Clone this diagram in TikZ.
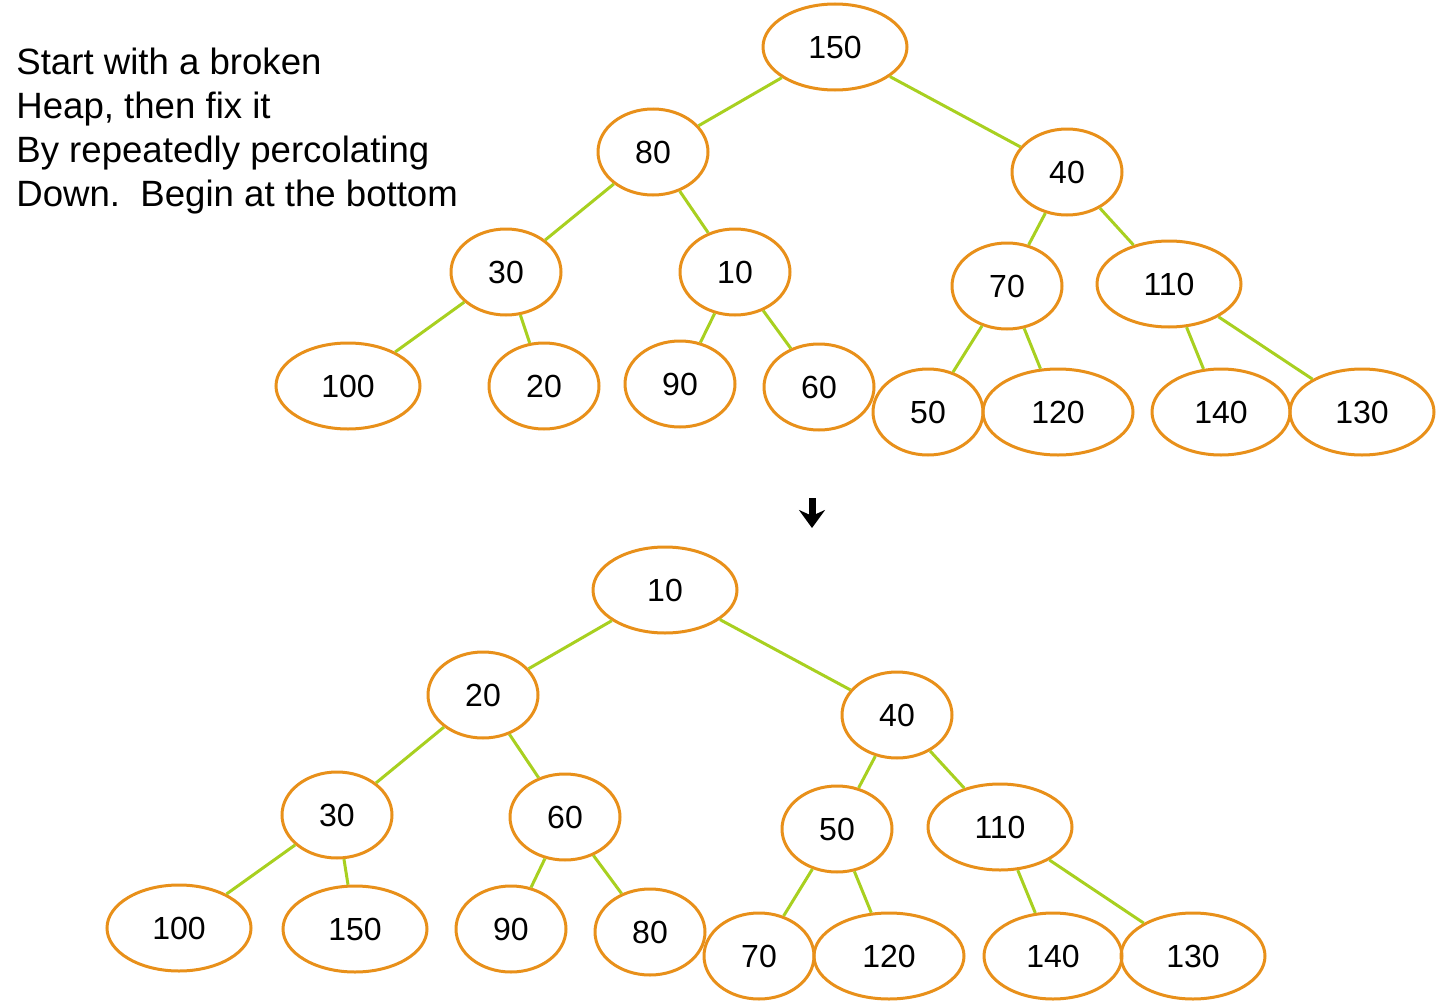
\documentclass[tikz,border=0pt]{standalone}
\usepackage{fontspec}
\setmainfont{Liberation Sans}
\usepackage{tikz}
\usetikzlibrary{arrows.meta,shapes.geometric}
\definecolor{heaporange}{HTML}{E8901A}
\definecolor{heapgreen}{HTML}{A8D020}

\begin{document}
\begin{tikzpicture}[x=0.5pt,y=-0.5pt,
    heap/.style={ellipse,draw=heaporange,line width=1.5pt,inner sep=0pt,
      minimum width=55pt,minimum height=43pt,font=\fontsize{16}{18}\selectfont},
    wide/.style={heap,minimum width=72pt},
    link/.style={draw=heapgreen,line width=1.5pt}]
  \useasboundingbox (0,0) rectangle (1436,1001);

  \node[anchor=north west,align=left,inner sep=0pt,font=\fontsize{18.3}{22}\selectfont]
    (intro) at (16,48)
    {Start with a broken\\Heap, then fix it\\By repeatedly percolating\\Down.\ \ Begin at the bottom};

  % broken heap
  \node[wide] (a150) at (835,47) {150};
  \node[heap] (a80) at (653,152) {80};
  \node[heap] (a40) at (1067,172) {40};
  \node[heap] (a30) at (506,272) {30};
  \node[heap] (a10) at (735,272) {10};
  \node[heap] (a70) at (1007,286) {70};
  \node[wide] (a110) at (1169,284) {110};
  \node[wide] (a100) at (348,386) {100};
  \node[heap] (a20) at (544,386) {20};
  \node[heap] (a90) at (680,384) {90};
  \node[heap] (a60) at (819,387) {60};
  \node[heap] (a50) at (928,412) {50};
  \node[wide,minimum width=75pt] (a120) at (1058,412) {120};
  \node[wide,minimum width=69pt] (a140) at (1221,412) {140};
  \node[wide] (a130) at (1362,412) {130};

  \foreach \p/\c in {150/80,150/40,80/30,80/10,40/70,40/110,30/100,30/20,
                     10/90,10/60,70/50,70/120,110/140,110/130}
    \path[link] (a\p) -- (a\c);

  \coordinate (arrtop) at (812,498);
  \coordinate (arrbot) at (812,528);
  \draw[line width=3.5pt,-{Stealth[length=9pt,width=13pt]}] (arrtop) -- (arrbot);

  % fixed heap
  \node[wide] (b10) at (665,590) {10};
  \node[heap] (b20) at (483,695) {20};
  \node[heap] (b40) at (897,715) {40};
  \node[heap] (b30) at (337,815) {30};
  \node[heap] (b60) at (565,817) {60};
  \node[heap] (b50) at (837,829) {50};
  \node[wide] (b110) at (1000,827) {110};
  \node[wide] (b100) at (179,928) {100};
  \node[wide] (b150) at (355,929) {150};
  \node[heap] (b90) at (511,929) {90};
  \node[heap] (b80) at (650,932) {80};
  \node[heap] (b70) at (759,956) {70};
  \node[wide,minimum width=75pt] (b120) at (889,956) {120};
  \node[wide,minimum width=69pt] (b140) at (1053,956) {140};
  \node[wide] (b130) at (1193,956) {130};

  \foreach \p/\c in {10/20,10/40,20/30,20/60,40/50,40/110,30/100,30/150,
                     60/90,60/80,50/70,50/120,110/140,110/130}
    \path[link] (b\p) -- (b\c);
\end{tikzpicture}
\end{document}
